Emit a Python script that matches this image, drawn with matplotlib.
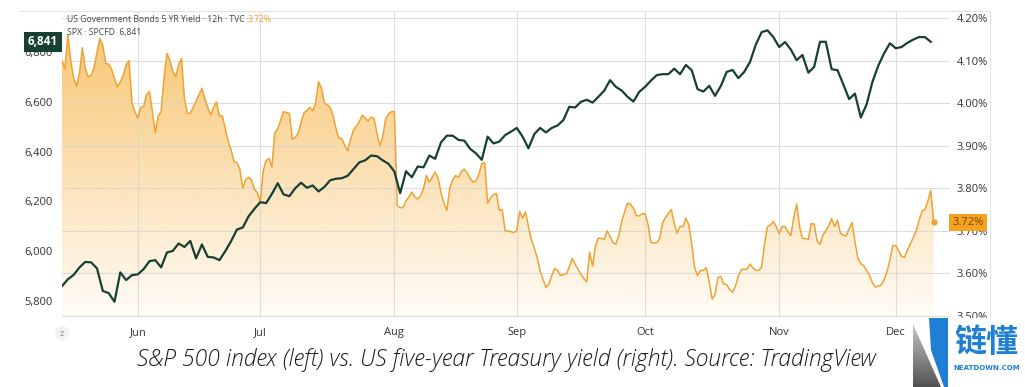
import numpy as np
import pandas as pd
import matplotlib
matplotlib.use('Agg')
import matplotlib.pyplot as plt
import matplotlib.transforms as mtransforms
from matplotlib.patches import Polygon
from matplotlib.lines import Line2D

# weekday calendar used by the chart's x axis (one SPX bar per day, two yield bars per day)
days = pd.bdate_range('2025-05-14', '2025-12-09')
month_labels = ['Jun', 'Jul', 'Aug', 'Sep', 'Oct', 'Nov', 'Dec']

# S&P 500 (SPX), daily
spx = [5860, 5887, 5905, 5935, 5957, 5955, 5931, 5840, 5832, 5797,
       5915, 5884, 5904, 5907, 5928, 5960, 5964, 5935, 5995, 6001,
       6031, 6017, 6041, 5971, 6027, 5977, 5975, 5964, 6000, 6040,
       6087, 6095, 6140, 6170, 6197, 6193, 6230, 6273, 6228, 6221,
       6253, 6275, 6255, 6264, 6240, 6258, 6285, 6291, 6293, 6303,
       6330, 6357, 6365, 6384, 6382, 6365, 6351, 6320, 6233, 6321,
       6297, 6340, 6337, 6384, 6371, 6437, 6464, 6464, 6447, 6444,
       6411, 6393, 6367, 6460, 6433, 6440, 6466, 6480, 6495, 6460,
       6413, 6470, 6495, 6477, 6495, 6505, 6527, 6580, 6577, 6600,
       6608, 6597, 6620, 6645, 6687, 6660, 6645, 6620, 6601, 6640,
       6660, 6685, 6707, 6711, 6711, 6733, 6711, 6748, 6727, 6651,
       6641, 6664, 6624, 6664, 6720, 6728, 6695, 6720, 6760, 6830,
       6880, 6887, 6860, 6820, 6840, 6810, 6767, 6788, 6717, 6740,
       6841, 6841, 6731, 6727, 6670, 6611, 6633, 6537, 6590, 6680,
       6745, 6795, 6835, 6815, 6820, 6837, 6850, 6860, 6860, 6841]

# US 5Y Treasury yield (%), 12h bars
yld = [4.10, 4.08, 4.16, 4.10, 4.06, 4.04, 4.07, 4.13, 4.08, 4.062,
       4.065, 4.083, 4.12, 4.152, 4.135, 4.093, 4.092, 4.08, 4.058, 4.038,
       4.05, 4.065, 4.09, 4.10, 4.00, 3.98, 3.965, 3.99, 3.992, 4.02,
       4.027, 3.98, 3.93, 3.97, 3.98, 4.06, 4.117, 4.10, 4.075, 4.062,
       4.09, 4.105, 4.01, 3.976, 3.976, 3.99, 4.005, 4.02, 4.035, 4.01,
       3.99, 3.972, 3.99, 4.003, 3.97, 3.97, 3.94, 3.91, 3.89, 3.863,
       3.86, 3.845, 3.80, 3.82, 3.826, 3.82, 3.798, 3.79, 3.768, 3.84,
       3.865, 3.87, 3.85, 3.93, 3.94, 3.96, 3.98, 3.978, 3.976, 3.915,
       3.92, 3.929, 3.955, 3.977, 3.983, 3.99, 3.982, 4.00, 4.05, 4.035,
       4.00, 3.996, 3.99, 3.97, 3.94, 3.917, 3.917, 3.90, 3.888, 3.915,
       3.937, 3.946, 3.957, 3.972, 3.965, 3.958, 3.967, 3.965, 3.93, 3.90,
       3.92, 3.962, 3.975, 3.98, 3.98, 3.76, 3.754, 3.755, 3.77, 3.78,
       3.791, 3.78, 3.775, 3.782, 3.80, 3.83, 3.815, 3.826, 3.838, 3.824,
       3.79, 3.765, 3.748, 3.80, 3.82, 3.83, 3.826, 3.84, 3.845, 3.836,
       3.823, 3.815, 3.817, 3.833, 3.858, 3.86, 3.765, 3.778, 3.785, 3.788,
       3.748, 3.75, 3.70, 3.70, 3.698, 3.696, 3.701, 3.745, 3.73, 3.745,
       3.71, 3.68, 3.66, 3.637, 3.606, 3.586, 3.567, 3.575, 3.595, 3.612,
       3.607, 3.595, 3.597, 3.599, 3.615, 3.635, 3.622, 3.61, 3.598, 3.588,
       3.58, 3.65, 3.617, 3.665, 3.683, 3.682, 3.68, 3.70, 3.687, 3.672,
       3.669, 3.69, 3.722, 3.745, 3.765, 3.763, 3.753, 3.736, 3.735, 3.74,
       3.74, 3.716, 3.673, 3.672, 3.672, 3.682, 3.718, 3.732, 3.741, 3.75,
       3.718, 3.695, 3.71, 3.71, 3.73, 3.715, 3.67, 3.614, 3.595, 3.607,
       3.607, 3.614, 3.58, 3.54, 3.55, 3.59, 3.593, 3.575, 3.574, 3.562,
       3.556, 3.57, 3.594, 3.609, 3.61, 3.61, 3.622, 3.613, 3.607, 3.607,
       3.615, 3.67, 3.71, 3.714, 3.722, 3.71, 3.693, 3.71, 3.71, 3.698,
       3.689, 3.73, 3.763, 3.71, 3.682, 3.682, 3.68, 3.717, 3.716, 3.677,
       3.668, 3.69, 3.70, 3.712, 3.729, 3.71, 3.725, 3.695, 3.69, 3.688,
       3.705, 3.72, 3.675, 3.635, 3.623, 3.618, 3.607, 3.595, 3.578, 3.568,
       3.57, 3.573, 3.585, 3.604, 3.632, 3.666, 3.665, 3.653, 3.64, 3.638,
       3.655, 3.67, 3.684, 3.70, 3.725, 3.746, 3.75, 3.77, 3.795, 3.72]

spx_ticks = [5800, 6000, 6200, 6400, 6600, 6800]
yld_ticks = [3.5, 3.6, 3.7, 3.8, 3.9, 4.0, 4.1, 4.2]

caption = 'S&P 500 index (left) vs. US five-year Treasury yield (right). Source: TradingView'

GREEN = '#173f33'
ORANGE = '#f0a232'
BLUE = '#1f7fd4'
W, H = 1025, 387


def fx(x):
    return x / W


def fy(y):
    return 1 - y / H


# first trading day of each month -> tick positions
month_idx = [i for i in range(1, len(days)) if days[i].month != days[i - 1].month]

fig = plt.figure(figsize=(W / 100, H / 100), dpi=100)
ax = fig.add_axes([fx(62), fy(317), 888 / W, 306 / H])
ax2 = ax.twinx()

x_hi = 152.3
y_lo, y_hi = 3.4976, 4.2165
s_lo, s_hi = 5735.7, 6964.7

# yield: line + vertical gradient fill
xs_y = np.arange(len(yld)) / 2
poly = ax.fill_between(xs_y, yld, y_lo, color='none', lw=0)
grad = np.zeros((256, 1, 4))
grad[..., 0] = 245 / 255
grad[..., 1] = 166 / 255
grad[..., 2] = 35 / 255
grad[:, 0, 3] = np.linspace(0.68, 0.04, 256)
img = ax.imshow(grad, extent=[0, x_hi, y_lo, y_hi], aspect='auto', origin='upper',
                interpolation='bilinear', zorder=1)
img.set_clip_path(poly.get_paths()[0], ax.transData)
ax.plot(xs_y, yld, color=ORANGE, lw=1.1, zorder=3)
ax.plot(xs_y[-1], yld[-1], 'o', ms=3.5, color=ORANGE, zorder=4)

# S&P 500 line on the twin axis (drawn above the fill)
xs_s = np.arange(len(spx))
ax2.plot(xs_s, spx, color=GREEN, lw=1.6, zorder=3)

ax.set_xlim(0, x_hi)
ax.set_ylim(y_lo, y_hi)
ax2.set_ylim(s_lo, s_hi)

ax.yaxis.tick_right()
ax2.yaxis.tick_left()
ax.set_yticks(yld_ticks)
ax.set_yticklabels([f'{v:.2f}%' for v in yld_ticks])
ax2.set_yticks(spx_ticks)
ax2.set_yticklabels([f'{v:,}' for v in spx_ticks])
ax.set_xticks(month_idx)
ax.set_xticklabels(month_labels)

for lab in ax.get_yticklabels() + ax2.get_yticklabels() + ax.get_xticklabels():
    lab.set_fontfamily('Open Sans')
    lab.set_fontsize(8)
    lab.set_color('#333333')
ax.tick_params(axis='y', length=0, pad=5)
ax2.tick_params(axis='y', length=0, pad=7)
ax.tick_params(axis='x', length=0, pad=7)

# the bottom 3.50% label is cut by the time scale in the original
low_lab = ax.get_yticklabels()[0]
low_lab.set_clip_box(mtransforms.TransformedBbox(
    mtransforms.Bbox([[0, fy(318)], [1, 1]]), fig.transFigure))
low_lab.set_clip_on(True)

ax.grid(True, color='#d5d5d5', lw=0.8, alpha=0.8)
for a in (ax, ax2):
    for s in a.spines.values():
        s.set_visible(False)

# last value tags
tr_left = mtransforms.blended_transform_factory(ax2.transAxes, ax2.transData)
ax2.text(-0.0214, spx[-1], f'{spx[-1]:,}', transform=tr_left, ha='center', va='center',
         color='white', fontsize=8.5, fontweight='bold', family='Open Sans', clip_on=False,
         zorder=10, bbox=dict(boxstyle='square,pad=0.3', fc=GREEN, ec='none'))
tr_right = mtransforms.blended_transform_factory(ax.transAxes, ax.transData)
ax.text(1.0203, yld[-1], f'{yld[-1]:.2f}%', transform=tr_right, ha='center', va='center',
        color='#7a4200', fontsize=8, family='Open Sans', clip_on=False, zorder=10,
        bbox=dict(boxstyle='square,pad=0.3', fc='#f5a21f', ec='none'))

# header texts
fig.text(fx(67), fy(20), 'US Government Bonds 5 YR Yield · 12h · TVC', fontsize=6.2,
         family='Open Sans', color='#444444', va='center')
fig.text(fx(248), fy(20), f'{yld[-1]:.2f}%', fontsize=6.2, family='Open Sans',
         color=ORANGE, va='center')
fig.text(fx(67), fy(33), f'SPX · SPCFD  {spx[-1]:,}', fontsize=6.2, family='Open Sans',
         color='#444444', va='center')
fig.text(fx(62), fy(333), 'z', fontsize=6, color='#999999', ha='center', va='center',
         bbox=dict(boxstyle='circle,pad=0.3', fc='#f2f2f2', ec='none'))

# chart frame lines
fig.add_artist(Line2D([fx(20), fx(990)], [fy(11), fy(11)], color='#e3e3e3', lw=0.8))
fig.add_artist(Line2D([fx(990), fx(990)], [fy(11), fy(318)], color='#e3e3e3', lw=0.8))

# caption
fig.text(fx(506), fy(360), caption, ha='center', va='center', style='italic',
         fontsize=16.5, fontweight='light', family='Open Sans', color='#1a1a1a')

# logo, drawn in pixel coordinates on its own axes
lax = fig.add_axes([fx(912), 0, fx(1025) - fx(912), fy(318)])
lax.set_xlim(912, 1025)
lax.set_ylim(387, 318)
lax.axis('off')
tri = Polygon([(913, 324), (913, 387), (941, 387)], closed=True, fc='none', ec='none')
lax.add_patch(tri)
g = lax.imshow(np.linspace(0.82, 0.32, 64).reshape(-1, 1), cmap='gray', vmin=0, vmax=1,
               extent=[912, 948, 387, 318], aspect='auto')
g.set_clip_path(tri)
lax.add_patch(Polygon([(929, 318), (948, 318), (948, 387), (944, 387), (931, 350)],
                      closed=True, fc=BLUE, ec='none'))
lax.text(986.5, 343, '链懂', ha='center', va='center', fontsize=23, fontweight='bold',
         family=['Noto Sans CJK SC', 'DejaVu Sans'], color=BLUE)
lax.text(987, 367.5, 'NEATDOWN.COM', ha='center', va='center', fontsize=5,
         fontweight='bold', family='DejaVu Sans', color=BLUE)

fig.savefig('out.png', dpi=100)
